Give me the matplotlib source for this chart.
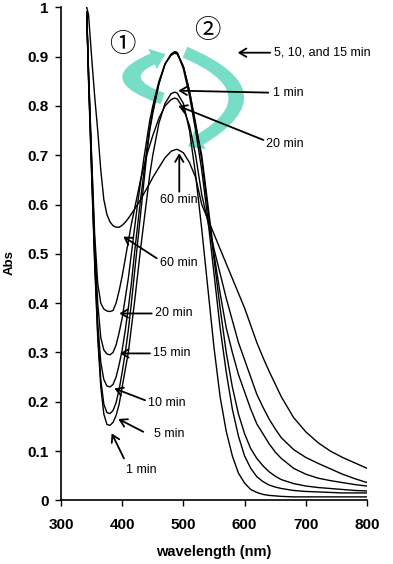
import matplotlib
matplotlib.use("Agg")
import matplotlib.pyplot as plt
from matplotlib.patches import FancyArrowPatch
from matplotlib.path import Path

plt.rcParams['font.family'] = ['Liberation Sans', 'DejaVu Sans']

wavelength = [342, 345, 350, 355, 360, 365, 370, 375, 380, 385, 390, 395, 400, 405,
              410, 415, 420, 425, 430, 435, 440, 445, 450, 460, 470, 480, 486, 490,
              500, 510, 520, 530, 540, 550, 560, 570, 580, 590, 600, 610, 620, 630,
              640, 650, 660, 680, 700, 720, 740, 760, 780, 800]

abs_1min = [0.99, 0.85, 0.66, 0.48, 0.33, 0.23, 0.175, 0.154, 0.152, 0.158, 0.172, 0.195,
            0.23, 0.265, 0.30, 0.35, 0.40, 0.455, 0.51, 0.56, 0.61, 0.66, 0.70, 0.765,
            0.805, 0.825, 0.828, 0.826, 0.805, 0.75, 0.66, 0.55, 0.43, 0.31, 0.21, 0.14,
            0.09, 0.055, 0.035, 0.022, 0.016, 0.012, 0.010, 0.009, 0.008, 0.007, 0.007,
            0.007, 0.007, 0.007, 0.007, 0.007]
abs_5min = [0.99, 0.86, 0.67, 0.49, 0.34, 0.245, 0.195, 0.178, 0.176, 0.182, 0.198, 0.225,
            0.26, 0.30, 0.345, 0.40, 0.46, 0.52, 0.58, 0.64, 0.70, 0.75, 0.785, 0.845,
            0.885, 0.905, 0.91, 0.908, 0.875, 0.82, 0.75, 0.67, 0.57, 0.46, 0.35, 0.26,
            0.185, 0.13, 0.09, 0.065, 0.048, 0.038, 0.031, 0.027, 0.024, 0.020, 0.018,
            0.017, 0.016, 0.015, 0.015, 0.015]
abs_10min = [0.99, 0.86, 0.68, 0.50, 0.36, 0.28, 0.245, 0.232, 0.230, 0.235, 0.25, 0.275,
             0.305, 0.345, 0.39, 0.44, 0.50, 0.555, 0.61, 0.66, 0.71, 0.755, 0.79, 0.845,
             0.885, 0.905, 0.91, 0.908, 0.88, 0.83, 0.765, 0.69, 0.59, 0.49, 0.39, 0.30,
             0.23, 0.175, 0.135, 0.105, 0.085, 0.07, 0.058, 0.049, 0.042, 0.034, 0.029,
             0.026, 0.024, 0.022, 0.020, 0.019]
abs_15min = [0.99, 0.87, 0.69, 0.52, 0.40, 0.33, 0.305, 0.297, 0.295, 0.30, 0.315, 0.34,
             0.37, 0.41, 0.45, 0.50, 0.55, 0.60, 0.645, 0.69, 0.73, 0.77, 0.80, 0.85,
             0.885, 0.903, 0.907, 0.905, 0.88, 0.83, 0.76, 0.70, 0.60, 0.50, 0.42, 0.35,
             0.30, 0.255, 0.22, 0.185, 0.155, 0.135, 0.115, 0.098, 0.085, 0.065, 0.053,
             0.045, 0.040, 0.036, 0.032, 0.029]
abs_20min = [0.99, 0.87, 0.70, 0.54, 0.44, 0.40, 0.388, 0.384, 0.383, 0.385, 0.40, 0.425,
             0.455, 0.49, 0.525, 0.56, 0.59, 0.62, 0.65, 0.675, 0.70, 0.72, 0.74, 0.775,
             0.80, 0.813, 0.816, 0.814, 0.795, 0.76, 0.70, 0.62, 0.565, 0.51, 0.46, 0.41,
             0.365, 0.32, 0.285, 0.25, 0.215, 0.189, 0.165, 0.145, 0.127, 0.103, 0.087,
             0.075, 0.064, 0.053, 0.044, 0.036]
abs_60min = [1.0, 0.985, 0.90, 0.82, 0.75, 0.67, 0.61, 0.58, 0.565, 0.557, 0.554, 0.554,
             0.558, 0.564, 0.572, 0.581, 0.59, 0.60, 0.61, 0.621, 0.632, 0.643, 0.655,
             0.675, 0.695, 0.708, 0.711, 0.712, 0.705, 0.685, 0.655, 0.60, 0.57, 0.54,
             0.51, 0.48, 0.45, 0.42, 0.39, 0.355, 0.32, 0.29, 0.262, 0.236, 0.21, 0.168,
             0.139, 0.117, 0.100, 0.087, 0.076, 0.065]

series = [abs_1min, abs_5min, abs_10min, abs_15min, abs_20min, abs_60min]

x_ticks = [300, 400, 500, 600, 700, 800]
y_ticks = [0, 0.1, 0.2, 0.3, 0.4, 0.5, 0.6, 0.7, 0.8, 0.9, 1]
y_ticklabels = ["0", "0.1", "0.2", "0.3", "0.4", "0.5", "0.6", "0.7", "0.8", "0.9", "1"]

fig = plt.figure(figsize=(3.93, 5.64), dpi=100)
ax = fig.add_axes([0.1552, 0.1129, 0.7786, 0.8741])

for s in series:
    ax.plot(wavelength, s, color='black', lw=1.0, zorder=3, clip_on=True)

ax.set_xlim(300, 800)
ax.set_ylim(0, 1)
ax.set_xticks(x_ticks)
ax.set_yticks(y_ticks)
ax.set_yticklabels(y_ticklabels)
for lab in ax.get_xticklabels() + ax.get_yticklabels():
    lab.set_fontweight('bold')
    lab.set_fontsize(11)
ax.tick_params(axis='both', direction='out', length=4, width=1.0, color='black')
ax.tick_params(axis='x', pad=9)
ax.tick_params(axis='y', pad=5)
ax.spines['top'].set_visible(False)
ax.spines['right'].set_visible(False)
ax.spines['left'].set_linewidth(1.2)
ax.spines['bottom'].set_linewidth(1.2)

ax.set_xlabel("wavelength (nm)", fontsize=10.5, fontweight='bold', labelpad=9)
fig.text(10 / 393, 1 - 263 / 564, "Abs", fontsize=9.5, fontweight='bold',
         rotation=90, ha='center', va='center')

# teal curved arrows
teal = '#5fd8bd'
style = "simple,head_width=1.6,head_length=1.0,tail_width=0.85"
arr1 = FancyArrowPatch(path=Path([(466, 0.815), (362, 0.86), (471, 0.905)],
                                 [Path.MOVETO, Path.CURVE3, Path.CURVE3]),
                       arrowstyle=style, mutation_scale=10, color=teal, alpha=0.85,
                       lw=0, zorder=2, transform=ax.transData)
arr2 = FancyArrowPatch(path=Path([(502.6, 0.909), (668, 0.822), (507.5, 0.718)],
                                 [Path.MOVETO, Path.CURVE3, Path.CURVE3]),
                       arrowstyle=style, mutation_scale=10, color=teal, alpha=0.85,
                       lw=0, zorder=2, transform=ax.transData)
ax.add_patch(arr1)
ax.add_patch(arr2)

ax.text(400, 0.925, "①", fontsize=19, family=['Noto Sans CJK JP', 'DejaVu Sans'],
        ha='center', va='center', zorder=4)
ax.text(538.6, 0.952, "②", fontsize=19, family=['Noto Sans CJK JP', 'DejaVu Sans'],
        ha='center', va='center', zorder=4)

# annotations: (text, tip xy, tail xy, text xy, ha)
notes = [
    ("5, 10, and 15 min", (588.7, 0.908), (642, 0.908), (648, 0.908), 'left'),
    ("1 min", (491.7, 0.831), (638.7, 0.827), (645.9, 0.827), 'left'),
    ("20 min", (491.7, 0.800), (630.6, 0.731), (634.5, 0.722), 'left'),
    ("60 min", (493.3, 0.704), (493.3, 0.626), (492.5, 0.610), 'center'),
    ("60 min", (401.8, 0.535), (456.4, 0.491), (461.8, 0.481), 'left'),
    ("20 min", (395.3, 0.379), (448.2, 0.379), (453.6, 0.379), 'left'),
    ("15 min", (396.4, 0.298), (445.4, 0.298), (449.8, 0.298), 'left'),
    ("10 min", (387.2, 0.227), (437.3, 0.203), (442.7, 0.197), 'left'),
    ("5 min", (393.7, 0.165), (434.5, 0.139), (452.4, 0.134), 'left'),
    ("1 min", (382.8, 0.136), (402.9, 0.085), (406.2, 0.061), 'left'),
]
for txt, tip, tail, tpos, ha in notes:
    ax.annotate("", xy=tip, xytext=tail,
                arrowprops=dict(arrowstyle="->,head_length=0.5,head_width=0.3",
                                color='black', lw=1.3, shrinkA=0, shrinkB=0),
                zorder=5)
    ax.text(tpos[0], tpos[1], txt, fontsize=9, ha=ha, va='center', zorder=5)

fig.savefig("out.png", dpi=100)
